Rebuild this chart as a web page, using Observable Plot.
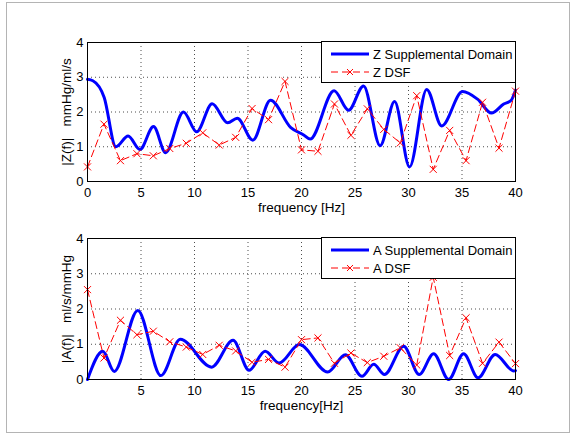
<!DOCTYPE html>
<html>
<head>
<meta charset="utf-8">
<script src="https://cdn.jsdelivr.net/npm/d3@7"></script>
<script src="https://cdn.jsdelivr.net/npm/@observablehq/plot@0.6"></script>
<style>
  html, body { margin: 0; padding: 0; background: #fff; }
  #fig { position: relative; width: 571px; height: 434px; background: #fff; overflow: hidden;
         font-family: "Liberation Sans", Arial, Helvetica, sans-serif; }
  #border { position: absolute; left: 6px; top: 2px; width: 562px; height: 429px; border: 1px solid #b4b4b4; }
  .panel { position: absolute; left: 0; }
  .legend { position: absolute; background: #fff; border: 1px solid #000; box-sizing: border-box; font-size: 13px; color: #000; }
  .legend .row { position: absolute; left: 8px; height: 16px; display: flex; align-items: center; white-space: nowrap; }
  .legend svg { margin-right: 3px; }
</style>
</head>
<body>
<div id="fig">
  <div id="border"></div>
</div>
<script>
// ---- Data ----
const freqDSF = [0, 1.54, 3.08, 4.62, 6.15, 7.69, 9.23, 10.77, 12.31, 13.85, 15.38, 16.92, 18.46, 20,
                 21.54, 23.08, 24.62, 26.15, 27.69, 29.23, 30.77, 32.31, 33.85, 35.38, 36.92, 38.46, 40];
const zDSF = [0.42, 1.65, 0.6, 0.8, 0.74, 0.95, 1.1, 1.4, 1.05, 1.27, 2.1, 1.78, 2.88, 0.91,
              0.87, 2.23, 1.33, 2.09, 1.5, 1.11, 2.47, 0.35, 1.47, 0.6, 2.28, 0.96, 2.6];
const aDSF = [2.55, 0.61, 1.68, 1.27, 1.37, 1.07, 0.92, 0.71, 0.97, 0.81, 0.49, 0.57, 0.35, 1.13,
              1.18, 0.46, 0.75, 0.48, 0.66, 0.9, 0.41, 2.9, 0.68, 1.75, 0.46, 1.06, 0.45];

const zSupFreq = [0, 0.5, 1.56, 2.65, 3.8, 4.9, 6.17, 7.3, 8.97, 10.2, 11.65, 13.1, 14.0, 15.45, 17.1,
                  19.0, 20.2, 20.8, 23.05, 24.4, 25.8, 27.35, 28.7, 30.1, 31.7, 33.1, 35.05, 36.45,
                  37.75, 38.9, 39.6, 40];
const zSup = [2.94, 2.9, 2.42, 1.0, 1.31, 0.92, 1.58, 0.83, 2.0, 1.43, 2.24, 1.69, 1.82, 1.19, 2.34,
              1.55, 1.34, 1.22, 2.61, 2.05, 2.75, 1.03, 2.3, 0.42, 2.65, 1.6, 2.59, 2.37,
              1.97, 2.23, 2.34, 2.63];

const aSupFreq = [0, 1.43, 2.5, 4.7, 6.86, 8.67, 11.6, 13.6, 15.1, 16.6, 17.9, 19.8, 22.45, 24.1,
                  25.65, 26.75, 27.75, 29.55, 31.0, 32.35, 33.75, 35.15, 36.5, 38.1, 39.85, 40];
const aSup = [0, 0.8, 0.23, 1.96, 0.11, 1.14, 0.35, 1.11, 0.26, 0.8, 0.47, 0.99, 0.21, 0.7,
              0.09, 0.43, 0.14, 0.94, 0.14, 0.73, 0.0, 0.73, 0.05, 0.71, 0.24, 0.25];

const xTicksTop = [0, 5, 10, 15, 20, 25, 30, 35, 40];
const xTicksBottom = [5, 10, 15, 20, 25, 30, 35, 40];
const xGrid = [5, 10, 15, 20, 25, 30, 35];
const yTicks = [0, 1, 2, 3, 4];
const yGrid = [1, 2, 3];

const panels = [
  { top: 0, height: 217, marginTop: 42, marginBottom: 36,
    supF: zSupFreq, sup: zSup, dsf: zDSF, xTicks: xTicksTop,
    xLabel: "frequency [Hz]", yLabel: "|Z(f)|\u00a0\u00a0\u00a0mmHg/ml/s",
    legend: ["Z Supplemental Domain", "Z DSF"] },
  { top: 217, height: 217, marginTop: 21, marginBottom: 55,
    supF: aSupFreq, sup: aSup, dsf: aDSF, xTicks: xTicksBottom,
    xLabel: "frequency[Hz]", yLabel: "|A(f)|\u00a0\u00a0\u00a0ml/s/mmHg",
    legend: ["A Supplemental Domain", "A DSF"] }
];

const fig = document.getElementById("fig");

for (const p of panels) {
  const supData = p.supF.map((f, i) => ({f, v: p.sup[i]}));
  const dsfData = freqDSF.map((f, i) => ({f, v: p.dsf[i]}));
  const chart = Plot.plot({
    width: 571,
    height: p.height,
    marginLeft: 87,
    marginRight: 56,
    marginTop: p.marginTop,
    marginBottom: p.marginBottom,
    style: { fontFamily: "'Liberation Sans', Arial, Helvetica, sans-serif", fontSize: "13px", background: "transparent", color: "#000", overflow: "visible" },
    x: { domain: [0, 40] },
    y: { domain: [0, 4] },
    marks: [
      Plot.gridX(xGrid, { stroke: "#000", strokeOpacity: 0.7, strokeDasharray: "1,3" }),
      Plot.gridY(yGrid, { stroke: "#000", strokeOpacity: 0.7, strokeDasharray: "1,3" }),
      Plot.line(supData, { x: "f", y: "v", stroke: "#0000ff", strokeWidth: 3, curve: "monotone-x" }),
      Plot.line(dsfData, { x: "f", y: "v", stroke: "#ff0000", strokeWidth: 1, strokeDasharray: "7,4" }),
      Plot.dot(dsfData, { x: "f", y: "v", symbol: "times", r: 3.3, stroke: "#ff0000", strokeWidth: 1 }),
      Plot.frame({ stroke: "#000", strokeWidth: 1 }),
      Plot.axisX(p.xTicks, { tickSize: 0, tickPadding: 6, fontSize: 13, label: null }),
      Plot.axisX({ ticks: [], tickSize: 0, fontSize: 13.5, label: p.xLabel, labelAnchor: "center", labelArrow: "none", labelOffset: 30 }),
      Plot.axisY(yTicks, { tickSize: 0, tickPadding: 4, fontSize: 13, label: null }),
      Plot.axisY({ ticks: [], tickSize: 0, fontSize: 13.5, label: p.yLabel, labelAnchor: "center", labelArrow: "none", labelOffset: 26 })
    ]
  });
  chart.classList.add("panel");
  chart.style.top = p.top + "px";
  fig.appendChild(chart);

  // legend box (top-right corner of the axes)
  const axTop = p.top + p.marginTop;
  const lg = document.createElement("div");
  lg.className = "legend";
  lg.style.left = "321px";
  lg.style.top = (axTop - 1) + "px";
  lg.style.width = "195px";
  lg.style.height = "42px";
  lg.innerHTML = `
    <div class="row" style="top:4px">
      <svg width="40" height="10"><line x1="1" x2="39" y1="5" y2="5" stroke="#0000ff" stroke-width="3"/></svg>
      <span>${p.legend[0]}</span>
    </div>
    <div class="row" style="top:22px">
      <svg width="40" height="10"><line x1="1" x2="39" y1="5" y2="5" stroke="#ff0000" stroke-width="1" stroke-dasharray="7,4"/>
        <path d="M17,2L23,8M23,2L17,8" stroke="#ff0000" stroke-width="1"/></svg>
      <span>${p.legend[1]}</span>
    </div>`;
  fig.appendChild(lg);
}
</script>
</body>
</html>
